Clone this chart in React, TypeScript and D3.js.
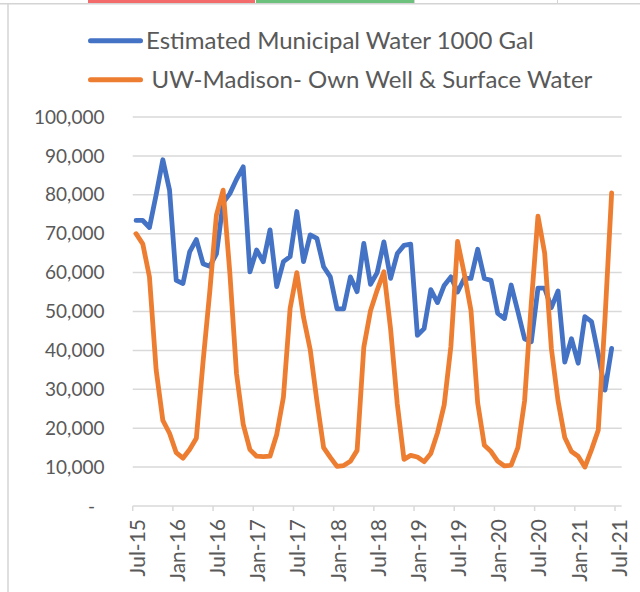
import React from 'react';
import * as d3 from 'd3';

// monthly readings, Jul-15 .. Jun-21
const municipal = [
  73400, 73400, 71600, 80000, 89000, 81200, 58000, 57200, 65300, 68500, 62300, 61600,
  64800, 78000, 80300, 84000, 87200, 60200, 65800, 62800, 71000, 56400, 62800, 64100,
  75700, 62800, 69700, 68800, 61500, 58900, 50700, 50700, 58900, 55100, 67500, 57000,
  60000, 67900, 58500, 64900, 67000, 67300, 43900, 45600, 55600, 52300, 56700, 58900,
  55000, 58500, 58500, 66000, 58500, 58000, 49500, 48200, 56800, 50000, 43000, 42200,
  56000, 56000, 51000, 55300, 37000, 43000, 36700, 48700, 47400, 39000, 29800, 40500,
];

const ownWell = [
  70000, 67400, 58900, 35000, 22000, 18700, 13700, 12300, 14500, 17400, 37000, 55000,
  74800, 81200, 60000, 34000, 21000, 14500, 12800, 12700, 12800, 18400, 28000, 50800,
  60000, 48500, 40200, 27000, 15000, 12500, 10200, 10400, 11500, 14300, 40800, 50200,
  55500, 60200, 45500, 26200, 12000, 13000, 12600, 11400, 13500, 18800, 26000, 41000,
  68000, 59700, 50300, 26500, 15600, 14000, 11500, 10300, 10500, 15000, 27000, 52000,
  74500, 65000, 40500, 27000, 17600, 14000, 12800, 10000, 14500, 19500, 48000, 80500,
];

const tickLabels = [
  'Jul-15', 'Jan-16', 'Jul-16', 'Jan-17', 'Jul-17', 'Jan-18', 'Jul-18',
  'Jan-19', 'Jul-19', 'Jan-20', 'Jul-20', 'Jan-21', 'Jul-21',
];

const yTicks = [0, 10000, 20000, 30000, 40000, 50000, 60000, 70000, 80000, 90000, 100000];

const seriesNames = ['Estimated Municipal Water 1000 Gal', 'UW-Madison- Own Well & Surface Water'];

const BLUE = '#4472C4';
const ORANGE = '#ED7D31';
const TEXT = '#595959';
const GRID = '#D9D9D9';
const FONT = "Lato, 'Open Sans', sans-serif";

export default function App() {
  const width = 640;
  const height = 592;

  // month slots since Jul-15, one extra slot at the end
  const x = d3.scaleLinear().domain([0, 73]).range([132.7, 621.7]);
  const y = d3.scaleLinear().domain([0, 100000]).range([506, 117]);

  const line = d3
    .line<number>()
    .x((_, i) => x(i + 0.5))
    .y((v) => y(v));

  const fmt = d3.format(',');

  return (
    <svg
      width={width}
      height={height}
      style={{ position: 'absolute', left: 0, top: 0, background: '#fff' }}
      fontFamily={FONT}
    >
      {/* sheet bits behind the chart */}
      <rect x={88} y={0} width={167} height={3} fill="#F46B6B" />
      <rect x={256} y={0} width={158} height={3} fill="#6CC27C" />
      <line x1={0} x2={width} y1={3.8} y2={3.8} stroke="#D4D4D4" strokeWidth={1.5} />
      <line x1={414.5} x2={414.5} y1={0} y2={4} stroke="#D4D4D4" />
      <line x1={557.5} x2={557.5} y1={0} y2={4} stroke="#D4D4D4" />
      <line x1={8} x2={8} y1={4} y2={height} stroke="#D4D4D4" strokeWidth={1.5} />

      {/* gridlines */}
      {yTicks.map((t) => (
        <line
          key={t}
          x1={x(0)}
          x2={x(73)}
          y1={y(t)}
          y2={y(t)}
          stroke={GRID}
          strokeWidth={1.5}
        />
      ))}

      {/* y labels */}
      {yTicks.map((t) => (
        <text
          key={'l' + t}
          x={t === 0 ? 95 : 104.5}
          y={y(t)}
          dy="0.35em"
          textAnchor="end"
          fontSize={19}
          fill={TEXT}
        >
          {t === 0 ? '-' : fmt(t)}
        </text>
      ))}

      {/* x ticks and labels */}
      {tickLabels.map((lab, k) => {
        const tx = x(k * 6);
        return (
          <g key={lab}>
            <line x1={tx} x2={tx} y1={y(0)} y2={y(0) + 5} stroke={GRID} strokeWidth={1.5} />
            <text
              transform={`translate(${tx + 4.5},${y(0) + 13}) rotate(-90)`}
              textAnchor="end"
              dy="0.35em"
              fontSize={21}
              fill={TEXT}
            >
              {lab}
            </text>
          </g>
        );
      })}

      {/* series */}
      <path
        d={line(municipal) || ''}
        fill="none"
        stroke={BLUE}
        strokeWidth={4.8}
        strokeLinejoin="round"
        strokeLinecap="round"
      />
      <path
        d={line(ownWell) || ''}
        fill="none"
        stroke={ORANGE}
        strokeWidth={4.8}
        strokeLinejoin="round"
        strokeLinecap="round"
      />

      {/* legend */}
      {seriesNames.map((name, i) => {
        const ly = 40.7 + i * 39;
        return (
          <g key={name}>
            <line
              x1={90.5}
              x2={140.5}
              y1={ly}
              y2={ly}
              stroke={i === 0 ? BLUE : ORANGE}
              strokeWidth={5}
              strokeLinecap="round"
            />
            <text x={i === 0 ? 146 : 151.5} y={ly + 8.6} fontSize={24} fill={TEXT}>
              {name}
            </text>
          </g>
        );
      })}
    </svg>
  );
}
